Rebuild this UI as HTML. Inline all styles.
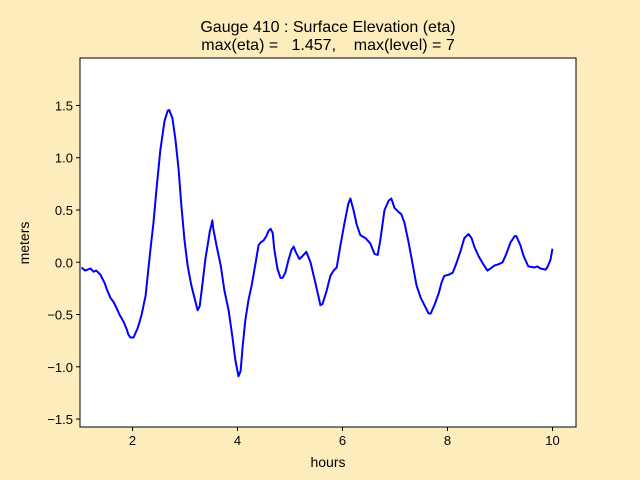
<!DOCTYPE html>
<html><head><meta charset="utf-8"><style>
body{margin:0;background:#feedbc;}
svg{display:block;font-family:"Liberation Sans","DejaVu Sans",sans-serif;}
</style></head><body>
<svg id="chart" width="640" height="480">
<rect width="640" height="480" fill="#feedbc"/>
<rect x="80" y="58" width="496" height="369" fill="#ffffff"/>
<text x="328" y="32" text-anchor="middle" font-size="16">Gauge 410 : Surface Elevation (eta)</text>
<text x="328" y="50" text-anchor="middle" font-size="16" xml:space="preserve">max(eta) =   1.457,    max(level) = 7</text>
<text x="328" y="467" text-anchor="middle" font-size="14">hours</text>
<text x="29" y="243" text-anchor="middle" font-size="14" transform="rotate(-90 29 243)">meters</text>
<g id="ticks"></g>
<path id="line" fill="none" stroke="#0000ff" stroke-width="2" stroke-linejoin="round"/>
<rect x="80" y="58" width="496" height="369" fill="none" stroke="#000" stroke-width="1"/>
</svg>
<script>
const times=[1.03,1.10,1.20,1.26,1.31,1.39,1.47,1.52,1.58,1.64,1.70,1.75,1.83,1.89,1.92,1.96,2.02,2.10,2.17,2.25,2.30,2.34,2.40,2.46,2.53,2.61,2.67,2.70,2.76,2.82,2.88,2.93,2.99,3.05,3.12,3.20,3.24,3.28,3.33,3.39,3.43,3.47,3.50,3.52,3.54,3.60,3.68,3.75,3.83,3.90,3.96,4.02,4.06,4.10,4.15,4.21,4.27,4.36,4.40,4.44,4.50,4.55,4.59,4.63,4.67,4.70,4.76,4.82,4.86,4.91,4.97,5.03,5.07,5.10,5.18,5.24,5.31,5.39,5.47,5.54,5.58,5.62,5.70,5.77,5.83,5.89,5.96,6.04,6.11,6.15,6.21,6.27,6.34,6.44,6.53,6.61,6.67,6.72,6.80,6.88,6.93,6.99,7.07,7.12,7.18,7.26,7.33,7.41,7.49,7.56,7.64,7.68,7.75,7.83,7.89,7.94,8.02,8.10,8.17,8.25,8.32,8.40,8.46,8.51,8.59,8.67,8.76,8.82,8.90,8.97,9.05,9.12,9.20,9.28,9.31,9.39,9.45,9.54,9.66,9.71,9.77,9.87,9.90,9.96,10.00];
const eta=[-0.05,-0.08,-0.06,-0.09,-0.08,-0.12,-0.20,-0.27,-0.34,-0.38,-0.44,-0.50,-0.57,-0.64,-0.69,-0.72,-0.72,-0.63,-0.51,-0.32,-0.08,0.11,0.38,0.71,1.07,1.35,1.45,1.457,1.38,1.17,0.88,0.55,0.21,-0.03,-0.22,-0.38,-0.46,-0.42,-0.22,0.04,0.16,0.29,0.35,0.40,0.32,0.16,-0.03,-0.27,-0.46,-0.70,-0.94,-1.09,-1.04,-0.80,-0.55,-0.36,-0.22,0.04,0.16,0.19,0.21,0.25,0.30,0.32,0.28,0.13,-0.06,-0.15,-0.15,-0.10,0.02,0.12,0.15,0.11,0.03,0.06,0.10,0.00,-0.17,-0.32,-0.41,-0.40,-0.27,-0.13,-0.08,-0.05,0.16,0.38,0.56,0.61,0.50,0.36,0.26,0.23,0.18,0.08,0.07,0.21,0.50,0.59,0.61,0.52,0.48,0.46,0.38,0.19,0.00,-0.22,-0.34,-0.41,-0.49,-0.49,-0.41,-0.30,-0.19,-0.13,-0.12,-0.10,-0.01,0.11,0.23,0.27,0.23,0.15,0.06,-0.01,-0.08,-0.06,-0.03,-0.02,0.00,0.08,0.19,0.25,0.25,0.16,0.06,-0.04,-0.05,-0.04,-0.06,-0.07,-0.05,0.02,0.13];
const xTicks=[2,4,6,8,10];
const yTicks=[-1.5,-1.0,-0.5,0.0,0.5,1.0,1.5];
const yTickLabels=["\u22121.5","\u22121.0","\u22120.5","0.0","0.5","1.0","1.5"];
const X0=80,X1=576,Y0=58,Y1=427,XMIN=1,XMAX=10.448,YMIN=-1.576,YMAX=1.954;
function xs(v){return X0+(v-XMIN)/(XMAX-XMIN)*(X1-X0);}
function ys(v){return Y1-(v-YMIN)/(YMAX-YMIN)*(Y1-Y0);}
const NS="http://www.w3.org/2000/svg";
const g=document.getElementById('ticks');
xTicks.forEach(function(t){
  const l=document.createElementNS(NS,'line');
  l.setAttribute('x1',xs(t));l.setAttribute('x2',xs(t));l.setAttribute('y1',Y1);l.setAttribute('y2',Y1+4);l.setAttribute('stroke','#000');
  
  
  g.appendChild(l);
  const tx=document.createElementNS(NS,'text');
  tx.setAttribute('x',xs(t));tx.setAttribute('y',Y1+18);tx.setAttribute('text-anchor','middle');tx.setAttribute('font-size','13');
  tx.textContent=String(t);
  
  
  g.appendChild(tx);
});
yTicks.forEach(function(t,i){
  const l=document.createElementNS(NS,'line');
  l.setAttribute('x1',X0-4);l.setAttribute('x2',X0);l.setAttribute('y1',ys(t));l.setAttribute('y2',ys(t));l.setAttribute('stroke','#000');
  
  
  g.appendChild(l);
  const tx=document.createElementNS(NS,'text');
  tx.setAttribute('x',X0-7);tx.setAttribute('y',ys(t)+5);tx.setAttribute('text-anchor','end');tx.setAttribute('font-size','13');
  tx.textContent=yTickLabels[i];
  
  
  g.appendChild(tx);
});
let d='';
times.forEach(function(t,i){d+=(i?'L':'M')+xs(t).toFixed(1)+','+ys(eta[i]).toFixed(1);});
document.getElementById('line').setAttribute('d',d);
</script>
</body></html>
